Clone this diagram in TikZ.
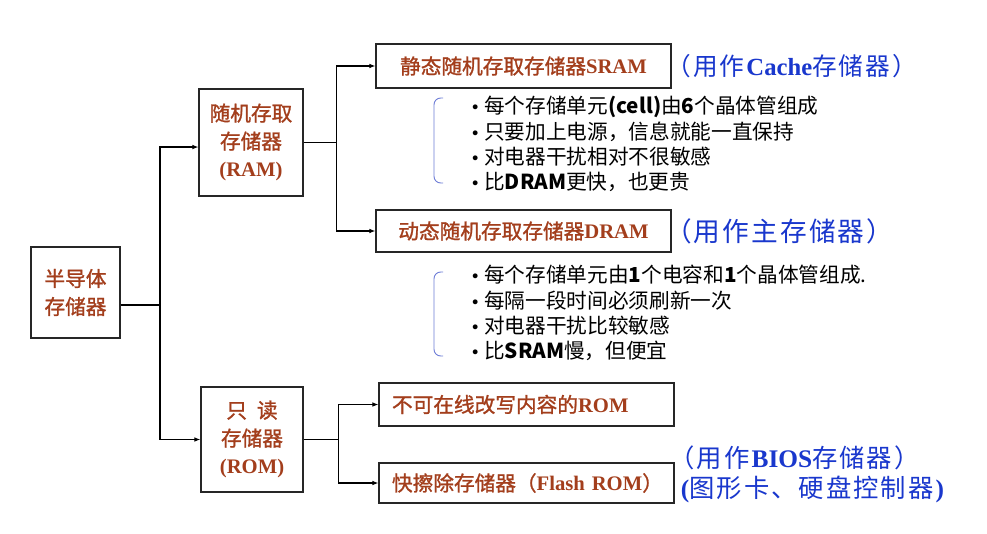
\documentclass[tikz,border=0pt]{standalone}
\usepackage{fontspec}
\setmainfont{Liberation Serif}
\newfontfamily\cjk{Noto Sans CJK SC}
\newfontfamily\cjkbox[FakeBold=1.2]{Noto Sans CJK SC}
\newfontfamily\cjkwide[LetterSpace=8]{Noto Sans CJK SC}
\newfontfamily\symfont{DejaVu Sans}
\usetikzlibrary{arrows.meta, positioning}
\definecolor{boxtext}{RGB}{163,62,28}
\definecolor{notetext}{RGB}{25,55,205}
\definecolor{bracecol}{RGB}{110,125,215}
\tikzset{
  box/.style={draw=black!85, line width=0.9pt, text=boxtext, align=center, inner sep=0pt, font=\fontsize{15.5}{21}\selectfont},
  leafbox/.style={box, align=left, inner xsep=9.75pt, text width=201.75pt},
  note/.style={text=notetext, inner sep=0pt, anchor=west, align=left},
  points/.style={inner sep=0pt, anchor=north west, align=left, font=\cjk\fontsize{15.5}{19}\selectfont},
  brace/.style={draw=bracecol, line width=0.7pt, rounded corners=5pt},
  arr/.style={-{Latex[length=4.5pt,width=3.5pt]}, line width=0.8pt},
}
\newcommand\bul{\makebox[10.5pt][l]{\symfont\fontsize{12.5}{12}\selectfont •}}

\begin{document}
\begin{tikzpicture}[x=0.75pt, y=-0.75pt]
		\path[fill=white, use as bounding box] (0,0) rectangle (987,534);

		% the three levels of boxes
		\node[box, minimum width=66.75pt, minimum height=68.25pt] (semi) at (75.5,292.5) {{\cjkbox 半导体}\\{\cjkbox 存储器}};
		\node[box, minimum width=78pt, minimum height=80.25pt] (ram) at (251,142.5) {{\cjkbox 随机存取}\\{\cjkbox 存储器}\\\textbf{(RAM)}};
		\node[box, minimum width=76.5pt, minimum height=78.75pt] (rom) at (252,439.5) {{\cjkbox 只\hspace{7.5pt}读}\\{\cjkbox 存储器}\\\textbf{(ROM)}};
		\node[box, minimum width=221.25pt, minimum height=33pt] (sram) at (523.5,66) {{\cjkbox 静态随机存取存储器}\textbf{SRAM}};
		\node[box, minimum width=221.25pt, minimum height=31.5pt] (dram) at (523.5,231) {{\cjkbox 动态随机存取存储器}\textbf{DRAM}};
		\node[leafbox, minimum height=32.25pt] (romA) at (526.5,404.5) {{\cjkbox 不可在线改写内容的}\textbf{ROM}};
		\node[leafbox, minimum height=30pt] (romB) at (526.5,483) {\mbox{{\cjkbox 快擦除存储器（}\textbf{Flash ROM}{\cjkbox ）}}};

		% notes in blue
		\node[note, font=\fontsize{18.5}{22}\selectfont] (sramnote) at ([xshift=-4pt]sram.east) {{\cjkwide （用作}\textbf{Cache}{\cjkwide 存储器）}};
		\node[note, font=\fontsize{20}{24}\selectfont] (dramnote) at ([xshift=-5pt]dram.east) {{\cjkwide （用作主存储器）}};
		\node[note, font=\fontsize{19}{23}\selectfont] (romnote) at ([xshift=-4pt, yshift=6.5pt]romB.east) {{\cjkwide （用作}\textbf{BIOS}{\cjkwide 存储器）}\\\hspace{0.45em}\textbf{(}{\cjkwide 图形卡、硬盘控制器}\textbf{)}};

		% properties
		\node[points] (sramlist) at (470,96) {\bul 每个存储单元\textbf{(cell)}由\textbf{6}个晶体管组成\\\bul 只要加上电源，信息就能一直保持\\\bul 对电器干扰相对不很敏感\\\bul 比\textbf{DRAM}更快，也更贵};
		\node[points] (dramlist) at (470,265) {\bul 每个存储单元由\textbf{1}个电容和\textbf{1}个晶体管组成.\\\bul 每隔一段时间必须刷新一次\\\bul 对电器干扰比较敏感\\\bul 比\textbf{SRAM}慢，但便宜};
		\draw[brace] (443,98) -| (434,183) -- (443,183);
		\draw[brace] (443,272) -| (434,356) -- (443,356);

		% connectors
		\coordinate (semifork) at (160,305);
		\coordinate[right=24.75pt of ram.east] (ramfork);
		\coordinate[right=26.25pt of rom.east] (romfork);
		\draw[line width=0.8pt] (semi.east |- semifork) -- (semifork);
		\draw[arr] (semifork) |- ([yshift=-3.4pt]ram.west);
		\draw[arr] (semifork) |- (rom.west);
		\draw[line width=0.8pt] (ram.east) -- (ramfork);
		\draw[arr] (ramfork) |- (sram.west);
		\draw[arr] (ramfork) |- (dram.west);
		\draw[line width=0.8pt] (rom.east) -- (romfork);
		\draw[arr] (romfork) |- (romA.west);
		\draw[arr] (romfork) |- (romB.west);
	\end{tikzpicture}
\end{document}
